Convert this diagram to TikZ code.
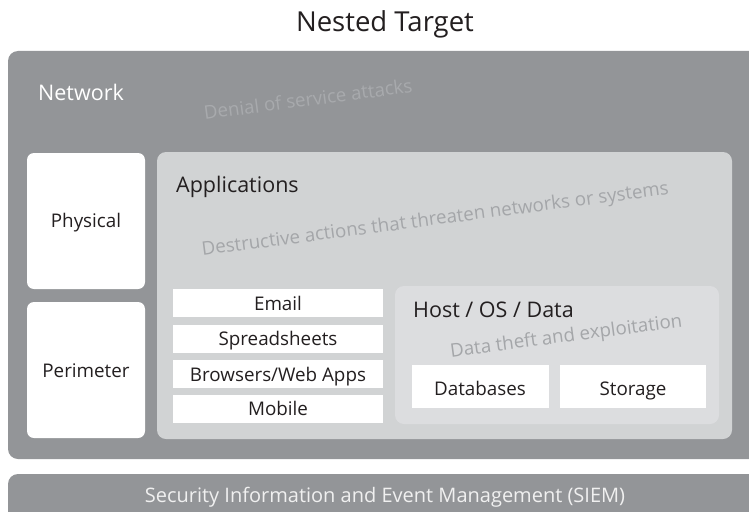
\documentclass[tikz,border=0pt]{standalone}
\usepackage{fontspec}
\setmainfont{Open Sans}
\definecolor{netgray}{HTML}{939598}
\definecolor{appgray}{HTML}{D1D3D4}
\definecolor{hostgray}{HTML}{DCDDDF}
\definecolor{threatdark}{HTML}{A4A6A9}
\definecolor{threatlight}{HTML}{A8AAAD}
\definecolor{labeldark}{HTML}{231F20}
\begin{document}
\begin{tikzpicture}[x=1pt,y=-1pt,
  panel/.style={rounded corners=#1},
  boxfont/.style={font=\fontsize{18.8}{22}\selectfont},
  boxtext/.style={anchor=base,inner sep=0pt,boxfont,text=labeldark},
  whitebox/.style={fill=white,draw=none,inner sep=0pt},
  layerlabel/.style={anchor=base west,inner sep=0pt,font=\fontsize{21.5}{25}\selectfont},
  threat/.style={anchor=base,inner sep=0pt,rotate=7.5,font=\fontsize{18.7}{22}\selectfont}]
\clip (0,0) rectangle (749,511);
\fill[white] (0,0) rectangle (749,511);

% title
\node[anchor=base,inner sep=0pt,font=\fontsize{27.5}{32}\selectfont,text=labeldark] (title) at (385,32) {Nested Target};

% network layer
\fill[netgray,panel=10pt] (8,51) rectangle (770,459);
\node[layerlabel,text=white] (network) at (38,100) {Network};
\node[threat,text=threatlight] (dos) at (309,106) {Denial of service attacks};

% physical and perimeter
\fill[white,panel=7pt] (27,153) rectangle (145,289);
\node[boxtext] (physical) at (86,227) {Physical};
\fill[white,panel=7pt] (27,302) rectangle (145,438);
\node[boxtext] (perimeter) at (86,377) {Perimeter};

% applications layer
\fill[appgray,panel=9pt] (157,152) rectangle (732,439);
\node[layerlabel,text=labeldark] (apps) at (176,192) {Applications};
\node[threat,text=threatdark] (destroy) at (436,225) {Destructive actions that threaten networks or systems};

\fill[whitebox] (173,289) rectangle (383,317);
\node[boxtext] (email) at (278,310) {Email};
\fill[whitebox] (173,325) rectangle (383,353);
\node[boxtext] (sheets) at (278,345) {Spreadsheets};
\fill[whitebox] (173,360) rectangle (383,388);
\node[boxtext] (web) at (278,381) {Browsers/Web Apps};
\fill[whitebox] (173,395) rectangle (383,423);
\node[boxtext] (mobile) at (278,415) {Mobile};

% host layer
\fill[hostgray,panel=9pt] (395,286) rectangle (719,424);
\node[layerlabel,text=labeldark] (host) at (413,317) {Host / OS / Data};
\node[threat,text=threatdark] (theft) at (567,342) {Data theft and exploitation};

\fill[whitebox] (412,365) rectangle (549,408);
\node[boxtext] (db) at (480,395) {Databases};
\fill[whitebox] (560,365) rectangle (706,408);
\node[boxtext] (storage) at (633,395) {Storage};

% SIEM bar
\fill[netgray,panel=10pt] (8,474) rectangle (770,530);
\node[anchor=base,inner sep=0pt,font=\fontsize{20}{24}\selectfont,text=white!94!black] (siem) at (385,502) {Security Information and Event Management (SIEM)};
\end{tikzpicture}
\end{document}
